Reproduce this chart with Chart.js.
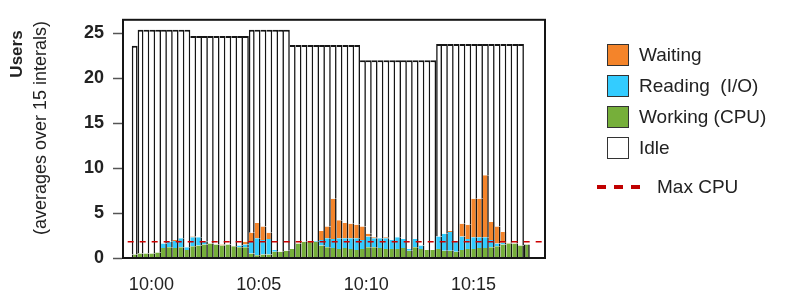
<!DOCTYPE html>
<html>
<head>
<meta charset="utf-8">
<script src="https://cdn.jsdelivr.net/npm/chart.js@4.4.1/dist/chart.umd.min.js"></script>
<style>
  html, body { margin: 0; padding: 0; background: #fff; }
  #wrap { position: relative; width: 795px; height: 296px; font-family: 'Liberation Sans', Arial, sans-serif; color: #222; }
  #chart { position: absolute; left: 0; top: 0; }
  .ytitle { position: absolute; white-space: nowrap; transform: translate(-50%, -50%) rotate(-90deg); }
  .lg { position: absolute; left: 607px; width: 20px; height: 20px; border: 1.5px solid #333; }
  .lgt { position: absolute; left: 639px; font-size: 19px; line-height: 22px; white-space: pre; }
  .dash { position: absolute; top: 185px; width: 9px; height: 4px; background: #c00000; }
</style>
</head>
<body>
<div id="wrap">
  <canvas id="chart" width="795" height="296"></canvas>
  <div class="ytitle" style="left:17px; top:54px; font-weight:bold; font-size:17px;">Users</div>
  <div class="ytitle" style="left:40px; top:128px; font-size:18px;">(averages over 15 interals)</div>

  <div class="lg" style="top:44px; background:#F4842A;"></div>
  <div class="lgt" style="top:44px;">Waiting</div>
  <div class="lg" style="top:75px; background:#33CCFF;"></div>
  <div class="lgt" style="top:75px;">Reading  (I/O)</div>
  <div class="lg" style="top:106px; background:#76AF3A;"></div>
  <div class="lgt" style="top:106px;">Working (CPU)</div>
  <div class="lg" style="top:137px; background:#fff;"></div>
  <div class="lgt" style="top:137px;">Idle</div>
  <div class="dash" style="left:597px;"></div>
  <div class="dash" style="left:614px;"></div>
  <div class="dash" style="left:631px;"></div>
  <div class="lgt" style="top:176px; left:657px;">Max CPU</div>
</div>
<script>
// one bar per averaging interval, x = bar index
const working = [
  0.4, 0.5, 0.5, 0.5, 0.6, 1.1, 1.2, 1.1, 1.2, 0.9,
  1.3, 1.4, 1.5, 1.6, 1.5, 1.4, 1.5, 1.3, 1.2, 1.2,
  0.5, 0.3, 0.4, 0.4, 0.7, 0.7, 0.8, 1.0, 1.6, 1.8,
  1.8, 1.8, 1.4, 1.2, 1.1, 1.0, 1.1, 1.0, 0.9, 1.0,
  1.2, 1.2, 1.1, 1.0, 1.0, 1.0, 1.1, 0.8, 1.2, 1.0,
  0.9, 0.9, 1.0, 0.8, 0.8, 0.7, 0.9, 1.0, 1.0, 1.1,
  1.1, 1.2, 1.3, 1.5, 1.6, 1.6, 1.4, 1.5
];
const reading = [
  0, 0, 0, 0, 0, 0.5, 0.6, 0.8, 1.0, 0.3,
  1.0, 0.9, 0.3, 0, 0, 0, 0, 0, 0.2, 0.3,
  1.4, 1.9, 1.6, 1.7, 0.2, 0, 0, 0, 0, 0,
  0, 0.1, 0.6, 1.0, 1.0, 1.2, 1.1, 1.2, 1.3, 1.0,
  1.2, 1.0, 1.1, 1.2, 1.0, 1.3, 1.0, 0.2, 0.9, 0.4,
  0, 0, 1.4, 1.9, 2.1, 1.2, 1.5, 1.1, 1.3, 1.2,
  1.2, 0.8, 0.3, 0.2, 0, 0, 0, 0
];
const waiting = [
  0, 0, 0, 0, 0, 0, 0, 0.1, 0, 0,
  0.1, 0, 0, 0, 0, 0.1, 0, 0, 0, 0.3,
  0.9, 1.7, 1.5, 0.7, 0, 0, 0, 0, 0, 0,
  0, 0, 1.0, 1.3, 4.5, 2.0, 1.7, 1.6, 1.5, 1.5,
  0.3, 0.1, 0, 0.1, 0, 0, 0, 0, 0, 0,
  0, 0, 0, 0, 0.1, 0, 1.4, 1.6, 4.3, 4.3,
  6.9, 2.0, 1.9, 1.2, 0.1, 0, 0, 0
];
// top of each bar (idle fills the rest)
const totalUsers = [
  23.6,
  25.4, 25.4, 25.4, 25.4, 25.4, 25.4, 25.4, 25.4, 25.4,
  24.7, 24.7, 24.7, 24.7, 24.7, 24.7, 24.7, 24.7, 24.7, 24.7,
  25.4, 25.4, 25.4, 25.4, 25.4, 25.4, 25.4,
  23.7, 23.7, 23.7, 23.7, 23.7, 23.7, 23.7, 23.7, 23.7, 23.7, 23.7, 23.7,
  22.0, 22.0, 22.0, 22.0, 22.0, 22.0, 22.0, 22.0, 22.0, 22.0, 22.0, 22.0, 22.0,
  23.8, 23.8, 23.8, 23.8, 23.8, 23.8, 23.8, 23.8, 23.8, 23.8, 23.8, 23.8, 23.8, 23.8, 23.8,
  1.5
];
const maxCpu = 1.8;
const maxCpuFrom = -1.2;

const xTickPos = [2.85, 21.2, 39.55, 57.9];
const xTickLabels = ["10:00", "10:05", "10:10", "10:15"];
const yTicks = [0, 5, 10, 15, 20, 25];

const X_MIN = -2, X_MAX = 70.1, Y_MAX = 26.5;
const INK = "#151515";
const LINE_W = 1.6;

const idle = totalUsers.map((t, i) => Math.max(0, +(t - working[i] - reading[i] - waiting[i]).toFixed(2)));
const pts = arr => arr.map((v, i) => ({ x: i, y: v }));

// adjacent bars share one dividing line: draw the right edge, and the left edge
// only on the first bar or where the bar rises above its left neighbour
function edges(isIdle) {
  return ctx => {
    const i = ctx.dataIndex;
    const stepUp = i === 0 || (isIdle && totalUsers[i - 1] < totalUsers[i]) || i === totalUsers.length - 1;
    return { left: stepUp ? LINE_W : 0, right: LINE_W, top: isIdle ? 2 : 0, bottom: 0 };
  };
}

function barSet(label, values, color, isIdle) {
  return {
    type: "bar", label, data: pts(values),
    backgroundColor: color, borderColor: INK,
    borderWidth: edges(isIdle), borderSkipped: false,
    categoryPercentage: 1, barPercentage: 1, inflateAmount: 0,
  };
}

const plotBox = {
  id: "plotBox",
  afterDatasetsDraw(chart) {
    const a = chart.chartArea, ctx = chart.ctx;
    ctx.save();
    ctx.strokeStyle = INK;
    ctx.lineWidth = 2;
    ctx.strokeRect(a.left, a.top, a.right - a.left, a.bottom - a.top);
    ctx.restore();
  }
};

Chart.defaults.font.family = "'Liberation Sans', Arial, sans-serif";
Chart.defaults.color = "#222";

new Chart(document.getElementById("chart"), {
  data: {
    datasets: [
      {
        type: "line", label: "Max CPU",
        data: [{ x: maxCpuFrom, y: maxCpu }, { x: X_MAX, y: maxCpu }],
        borderColor: "#cc0000", borderWidth: 1.5, borderDash: [6, 6],
        pointRadius: 0, fill: false, stack: "cpu",
      },
      barSet("Working (CPU)", working, "#76AF3A", false),
      barSet("Reading  (I/O)", reading, "#33CCFF", false),
      barSet("Waiting", waiting, "#F4842A", false),
      barSet("Idle", idle, "#ffffff", true),
    ]
  },
  options: {
    responsive: false,
    animation: false,
    devicePixelRatio: 1,
    layout: { padding: { left: 0, right: 250, top: 12, bottom: 0 } },
    plugins: { legend: { display: false }, tooltip: { enabled: false } },
    scales: {
      x: {
        type: "linear", stacked: true, min: X_MIN, max: X_MAX, offset: false,
        grid: { display: false },
        border: { display: true, color: INK, width: 2 },
        ticks: {
          font: { size: 18 }, color: "#222", padding: 8, maxRotation: 0, autoSkip: false,
          callback: v => xTickLabels[xTickPos.indexOf(v)] || ""
        },
        afterBuildTicks: s => { s.ticks = xTickPos.map(v => ({ value: v })); },
        afterFit: s => { s.height = 38; }
      },
      y: {
        stacked: true, min: 0, max: Y_MAX,
        grid: { display: true, drawOnChartArea: false, drawTicks: true, tickLength: 10, tickColor: "#555", tickWidth: 1.5 },
        border: { display: true, color: INK, width: 2 },
        ticks: { font: { size: 18, weight: "bold" }, color: "#222", padding: 9 },
        afterBuildTicks: s => { s.ticks = yTicks.map(v => ({ value: v })); },
        afterFit: s => { s.width = 123; }
      }
    }
  },
  plugins: [plotBox]
});
</script>
</body>
</html>
